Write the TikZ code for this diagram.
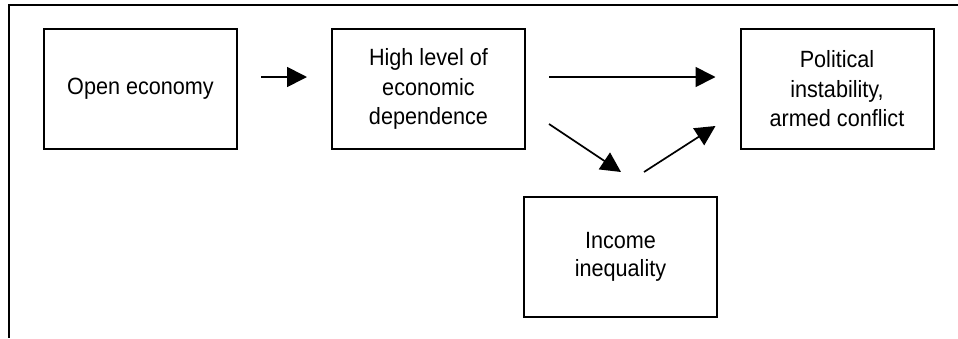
\documentclass[tikz,border=0pt]{standalone}
\usepackage{fontspec}
\setmainfont[FakeStretch=0.92]{Liberation Sans}
\usetikzlibrary{arrows.meta}
\tikzset{
  stepbox/.style={draw=black, line width=2pt, minimum width=193pt, minimum height=120pt,
    inner sep=0pt, align=center, font=\fontsize{23.5}{29.5}\selectfont},
  conn/.style={draw=black, line width=1.7pt, -{Triangle[length=20pt,width=20pt]}},
  frameline/.style={draw=black, line width=2pt}
}
\begin{document}
\begin{tikzpicture}[x=1pt, y=-1pt]
  \useasboundingbox (0,0) rectangle (958,338);
  % open frame: top and left edges only
  \coordinate (ftr) at (958,5);
  \coordinate (ftl) at (9,5);
  \coordinate (fbl) at (9,338);
  \draw[frameline] (ftr) -- (ftl) -- (fbl);

  % boxes
  \node[stepbox] (open) at (140.5,89) {Open economy};
  \node[stepbox] (dep) at (428.5,89) {High level of\\economic\\dependence};
  \node[stepbox] (pol) at (837,89) {Political\\instability,\\armed conflict};
  \node[stepbox, font=\fontsize{23.5}{27.5}\selectfont] (ineq) at (620.5,257) {Income\\inequality};

  % connectors
  \draw[conn] ([shift={(23,-12)}]open.east) -- ([shift={(-24,-12)}]dep.west);
  \draw[conn] ([shift={(23,-12)}]dep.east) -- ([shift={(-24,-12)}]pol.west);
  \draw[conn] ([shift={(23,35)}]dep.east) -- ([shift={(0.5,-24)}]ineq.north);
  \draw[conn] ([shift={(23.5,-24)}]ineq.north) -- ([shift={(-24,37)}]pol.west);
\end{tikzpicture}
\end{document}
